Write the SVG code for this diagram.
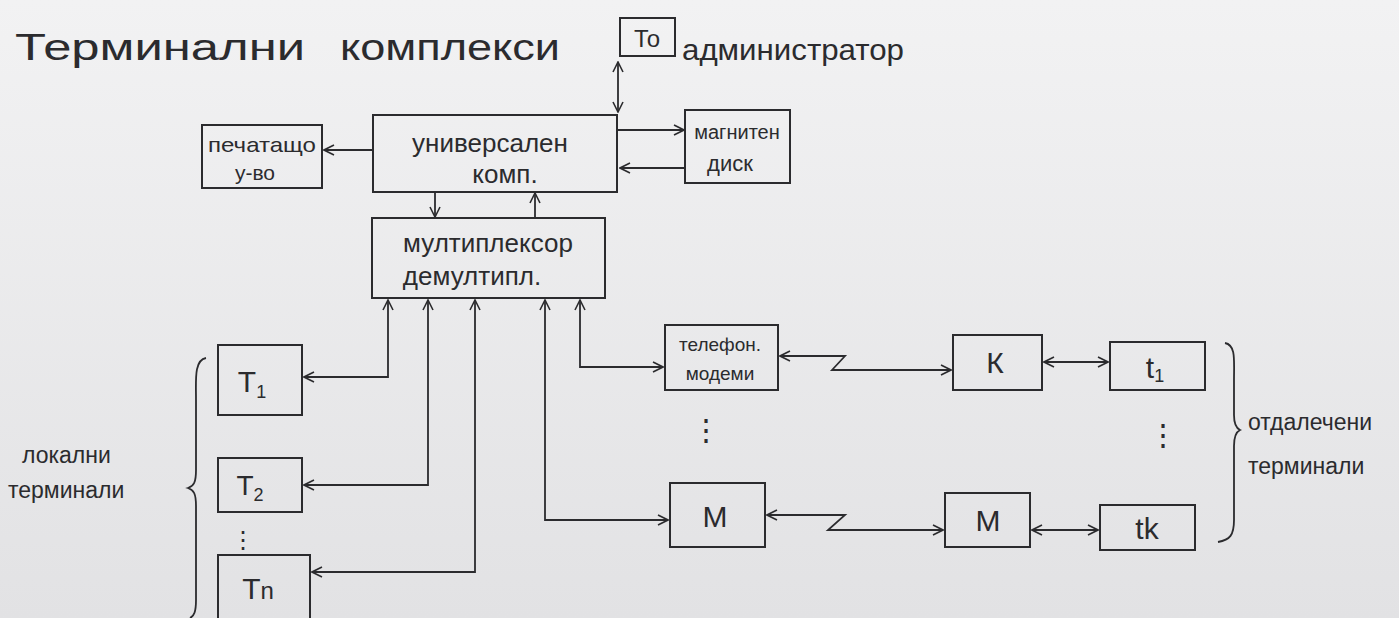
<svg xmlns="http://www.w3.org/2000/svg" width="1399" height="618" viewBox="0 0 1399 618">
<defs>
<linearGradient id="bg" x1="0" y1="0" x2="0" y2="1">
<stop offset="0" stop-color="#f2f2f3"/>
<stop offset="1" stop-color="#e2e2e4"/>
</linearGradient>
<marker id="a" viewBox="0 0 12 12" refX="11" refY="6" markerWidth="12" markerHeight="12" markerUnits="userSpaceOnUse" orient="auto-start-reverse">
<path d="M1,1 L11,6 L1,11" fill="none" stroke="#2b2b2e" stroke-width="1.6"/>
</marker>
</defs>
<style>
.b{fill:none;stroke:#2b2b2e;stroke-width:2}
.l{fill:none;stroke:#2b2b2e;stroke-width:1.8}
.t{font-family:"Liberation Sans",sans-serif;fill:#2b2b2e}
.m{text-anchor:middle}
</style>
<rect width="1399" height="618" fill="url(#bg)"/>
<text class="t" x="15" y="60" font-size="36" textLength="290" lengthAdjust="spacingAndGlyphs">Терминални</text>
<text class="t" x="340" y="60" font-size="36" textLength="220" lengthAdjust="spacingAndGlyphs">комплекси</text>
<g id="to"><rect class="b" x="620" y="18" width="55" height="38"/><text class="t m" x="647" y="47" font-size="24">То</text></g>
<text class="t" x="682" y="60" font-size="30" textLength="222" lengthAdjust="spacingAndGlyphs">администратор</text>
<g id="comp"><rect class="b" x="373" y="115" width="244" height="77"/><text class="t m" x="490" y="152" font-size="26">универсален</text><text class="t m" x="505" y="183" font-size="26">комп.</text></g>
<g id="printer"><rect class="b" x="202" y="125" width="120" height="63"/><text class="t m" x="262" y="152" font-size="21" textLength="108" lengthAdjust="spacingAndGlyphs">печатащо</text><text class="t m" x="255" y="180" font-size="21">у-во</text></g>
<g id="disk"><rect class="b" x="685" y="110" width="105" height="73"/><text class="t m" x="737" y="139" font-size="20">магнитен</text><text class="t m" x="730" y="171" font-size="22">диск</text></g>
<g id="mux"><rect class="b" x="372" y="218" width="233" height="80"/><text class="t m" x="488" y="252" font-size="26">мултиплексор</text><text class="t m" x="472" y="285" font-size="26">демултипл.</text></g>
<g id="t1"><rect class="b" x="218" y="345" width="84" height="70"/><text class="t m" x="252" y="392" font-size="30">T<tspan font-size="18" dy="6">1</tspan></text></g>
<g id="t2"><rect class="b" x="218" y="458" width="84" height="54"/><text class="t m" x="250" y="495" font-size="28">T<tspan font-size="18" dy="6">2</tspan></text></g>
<g id="tn"><rect class="b" x="218" y="555" width="92" height="70"/><text class="t m" x="258" y="599" font-size="30">T<tspan font-size="24">n</tspan></text></g>
<text class="t m" x="243" y="548" font-size="24">⋮</text>
<g id="modem"><rect class="b" x="665" y="325" width="113" height="65"/><text class="t m" x="720" y="351" font-size="19">телефон.</text><text class="t m" x="720" y="380" font-size="19">модеми</text></g>
<text class="t m" x="706" y="440" font-size="30">⋮</text>
<g id="k1"><rect class="b" x="953" y="335" width="89" height="55"/><text class="t m" x="995" y="373" font-size="30">К</text></g>
<g id="tt1"><rect class="b" x="1110" y="342" width="95" height="48"/><text class="t m" x="1155" y="378" font-size="30">t<tspan font-size="18" dy="4">1</tspan></text></g>
<text class="t m" x="1163" y="445" font-size="30">⋮</text>
<g id="m1"><rect class="b" x="670" y="483" width="95" height="64"/><text class="t m" x="715" y="527" font-size="30">М</text></g>
<g id="m2"><rect class="b" x="945" y="493" width="85" height="54"/><text class="t m" x="988" y="531" font-size="30">М</text></g>
<g id="tk"><rect class="b" x="1100" y="505" width="95" height="45"/><text class="t m" x="1147" y="539" font-size="30">tk</text></g>
<g id="lbl-local">
<path class="l" d="M206,358 C194,360 196,380 196,400 L196,470 C196,482 194,486 188,488 C194,490 196,494 196,506 L196,600 C196,612 194,616 190,618"/>
<text class="t" x="22" y="463" font-size="23">локални</text>
<text class="t" x="8" y="498" font-size="23">терминали</text>
</g>
<g id="lbl-remote">
<path class="l" d="M1225,343 C1236,345 1234,360 1234,380 L1234,415 C1234,424 1236,428 1240,430 C1236,432 1234,436 1234,446 L1234,520 C1234,535 1230,540 1218,542"/>
<text class="t" x="1248" y="430" font-size="23">отдалечени</text>
<text class="t" x="1248" y="474" font-size="23">терминали</text>
</g>
<g id="connectors">
<path class="l" d="M618,62 V112" marker-start="url(#a)" marker-end="url(#a)"/>
<path class="l" d="M373,150 H324" marker-end="url(#a)"/>
<path class="l" d="M618,130 H684" marker-end="url(#a)"/>
<path class="l" d="M685,168 H620" marker-end="url(#a)"/>
<path class="l" d="M435,192 V217" marker-end="url(#a)"/>
<path class="l" d="M535,218 V193" marker-end="url(#a)"/>
<path class="l" d="M388,300 V377 H304" marker-start="url(#a)" marker-end="url(#a)"/>
<path class="l" d="M428,300 V485 H304" marker-start="url(#a)" marker-end="url(#a)"/>
<path class="l" d="M475,300 V572 H312" marker-start="url(#a)" marker-end="url(#a)"/>
<path class="l" d="M545,300 V520 H668" marker-start="url(#a)" marker-end="url(#a)"/>
<path class="l" d="M580,300 V367 H663" marker-start="url(#a)" marker-end="url(#a)"/>
<path class="l" d="M780,356 H845 L832,370 H951" marker-start="url(#a)" marker-end="url(#a)"/>
<path class="l" d="M1044,362 H1108" marker-start="url(#a)" marker-end="url(#a)"/>
<path class="l" d="M767,515 H845 L828,530 H943" marker-start="url(#a)" marker-end="url(#a)"/>
<path class="l" d="M1032,530 H1098" marker-start="url(#a)" marker-end="url(#a)"/>
</g>
</svg>
